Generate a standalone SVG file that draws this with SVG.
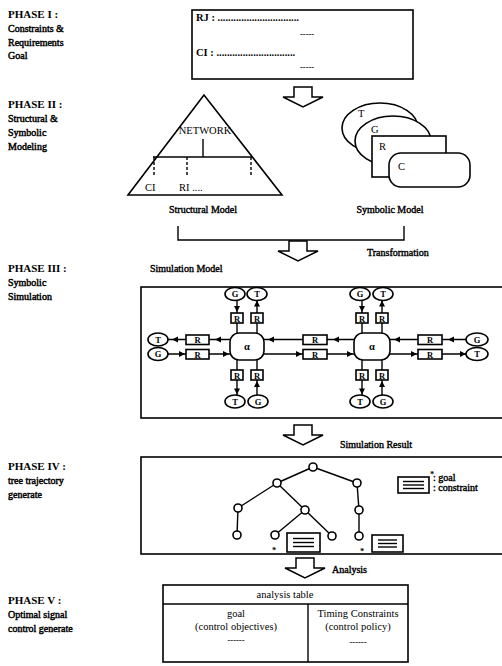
<svg xmlns="http://www.w3.org/2000/svg" width="502" height="666" viewBox="0 0 502 666">
<defs>
<style>
.ph{font-family:"Liberation Serif",serif;font-size:11px;font-weight:bold;fill:#000}
.lbl{font-family:"Liberation Serif",serif;font-size:10px;fill:#000;stroke:#000;stroke-width:0.45}
.cap{font-family:"Liberation Serif",serif;font-size:10px;fill:#000;stroke:#000;stroke-width:0.4}
.txt{font-family:"Liberation Serif",serif;font-size:10.5px;fill:#000}
.sm{font-family:"Liberation Serif",serif;font-size:8.5px;font-weight:bold;fill:#000}
.ln{stroke:#000;stroke-width:1.4;fill:none}
.bx{stroke:#000;stroke-width:1.6;fill:#fff}
.bxn{stroke:#000;stroke-width:1.6;fill:none}
</style>
<path id="ah" d="M0,0 L-6,-3 L-6,3 Z"/>
<path id="barrow" d="M-9,0 L9,0 L9,10 L20,10 L0,20 L-20,10 L-9,10 Z" fill="#fff" stroke="#000" stroke-width="1.5"/>
</defs>
<rect width="502" height="666" fill="#fff"/>

<g id="phase-labels">
<text class="ph" x="8" y="18">PHASE I :</text>
<text class="lbl" x="8" y="32">Constraints &amp;</text>
<text class="lbl" x="8" y="46">Requirements</text>
<text class="lbl" x="8" y="59">Goal</text>
<text class="ph" x="8" y="108">PHASE II :</text>
<text class="lbl" x="8" y="122">Structural &amp;</text>
<text class="lbl" x="8" y="136">Symbolic</text>
<text class="lbl" x="8" y="150">Modeling</text>
<text class="ph" x="8" y="272">PHASE III :</text>
<text class="lbl" x="8" y="286">Symbolic</text>
<text class="lbl" x="8" y="300">Simulation</text>
<text class="ph" x="8" y="470">PHASE IV :</text>
<text class="lbl" x="8" y="484">tree trajectory</text>
<text class="lbl" x="8" y="498">generate</text>
<text class="ph" x="8" y="604">PHASE V :</text>
<text class="lbl" x="8" y="618">Optimal signal</text>
<text class="lbl" x="8" y="632">control generate</text>
</g>

<g id="phase1-box">
<rect class="bxn" x="192" y="10" width="221" height="69"/>
<text class="txt" x="196" y="21" font-weight="bold">RJ : ...............................</text>
<text class="sm" x="300" y="37">-----</text>
<text class="txt" x="196" y="56" font-weight="bold">CI : ..............................</text>
<text class="sm" x="300" y="70">-----</text>
</g>

<g id="arrow1"><use href="#barrow" transform="translate(303,87)"/></g>

<g id="structural-model">
<polygon class="bxn" points="204,95 128,195 282,195"/>
<text class="txt" x="205" y="134" text-anchor="middle">NETWORK</text>
<line class="ln" x1="203" y1="139" x2="203" y2="157"/>
<line class="ln" x1="153" y1="157" x2="252" y2="157"/>
<line class="ln" x1="154" y1="157" x2="154" y2="175" stroke-dasharray="3,2"/>
<line class="ln" x1="187" y1="157" x2="187" y2="175" stroke-dasharray="3,2"/>
<line class="ln" x1="251" y1="157" x2="251" y2="175" stroke-dasharray="3,2"/>
<text class="txt" x="145" y="191">CI</text>
<text class="txt" x="179" y="191">RI ....</text>
<text class="cap" x="203" y="213" text-anchor="middle">Structural Model</text>
</g>

<g id="symbolic-model">
<ellipse class="bx" cx="380" cy="128" rx="38" ry="25"/>
<ellipse class="bx" cx="393" cy="141" rx="38" ry="25"/>
<rect class="bx" x="372" y="136" width="74" height="41"/>
<rect class="bx" x="389" y="153" width="81" height="34" rx="12"/>
<text class="txt" x="358" y="117">T</text>
<text class="txt" x="371" y="133">G</text>
<text class="txt" x="379" y="150">R</text>
<text class="txt" x="398" y="170">C</text>
<text class="cap" x="390" y="213" text-anchor="middle">Symbolic Model</text>
</g>

<g id="transformation">
<polyline class="ln" points="178,226 178,240 404,240 404,226"/>
<use href="#barrow" transform="translate(298,241)"/>
<text class="cap" x="367" y="256">Transformation</text>
</g>

<g id="simulation-model">
<text class="cap" x="150" y="272">Simulation Model</text>
<rect class="bxn" x="141" y="287" width="380" height="131"/>
</g>

<g id="connectors">
<line class="ln" x1="168" y1="339.5" x2="230" y2="339.5"/>
<line class="ln" x1="168" y1="354" x2="230" y2="354"/>
<use href="#ah" transform="translate(172,339.5) rotate(180)"/>
<use href="#ah" transform="translate(215,339.5) rotate(180)"/>
<use href="#ah" transform="translate(185,354)"/>
<use href="#ah" transform="translate(229,354)"/>
<line class="ln" x1="264" y1="339.5" x2="354" y2="339.5"/>
<line class="ln" x1="264" y1="354" x2="354" y2="354"/>
<use href="#ah" transform="translate(268,339.5) rotate(180)"/>
<use href="#ah" transform="translate(333,339.5) rotate(180)"/>
<use href="#ah" transform="translate(302,354)"/>
<use href="#ah" transform="translate(353,354)"/>
<line class="ln" x1="390" y1="339.5" x2="466" y2="339.5"/>
<line class="ln" x1="390" y1="354" x2="466" y2="354"/>
<use href="#ah" transform="translate(394,339.5) rotate(180)"/>
<use href="#ah" transform="translate(448,339.5) rotate(180)"/>
<use href="#ah" transform="translate(417,354)"/>
<use href="#ah" transform="translate(466,354)"/>
<line class="ln" x1="237" y1="300" x2="237" y2="333"/>
<line class="ln" x1="257" y1="300" x2="257" y2="333"/>
<use href="#ah" transform="translate(237,312) rotate(90)"/>
<use href="#ah" transform="translate(257,300.5) rotate(-90)"/>
<line class="ln" x1="237" y1="360" x2="237" y2="395"/>
<line class="ln" x1="257" y1="360" x2="257" y2="395"/>
<use href="#ah" transform="translate(237,394.5) rotate(90)"/>
<use href="#ah" transform="translate(257,381) rotate(-90)"/>
<line class="ln" x1="362" y1="300" x2="362" y2="333"/>
<line class="ln" x1="382" y1="300" x2="382" y2="333"/>
<use href="#ah" transform="translate(362,312) rotate(90)"/>
<use href="#ah" transform="translate(382,300.5) rotate(-90)"/>
<line class="ln" x1="362" y1="360" x2="362" y2="395"/>
<line class="ln" x1="382" y1="360" x2="382" y2="395"/>
<use href="#ah" transform="translate(362,394.5) rotate(90)"/>
<use href="#ah" transform="translate(382,381) rotate(-90)"/>
</g>

<g id="alpha1">
<rect class="bx" x="230" y="333" width="34" height="27" rx="9"/>
<text class="txt" x="247" y="350" text-anchor="middle" font-weight="bold">α</text>
</g>
<g id="alpha2">
<rect class="bx" x="354" y="333" width="36" height="27" rx="9"/>
<text class="txt" x="372" y="350" text-anchor="middle" font-weight="bold">α</text>
</g>

<g id="r-boxes">
<rect class="bx" x="186" y="335" width="23" height="9.5"/>
<rect class="bx" x="186" y="349.5" width="23" height="9.5"/>
<rect class="bx" x="303" y="335" width="24" height="9.5"/>
<rect class="bx" x="303" y="349.5" width="24" height="9.5"/>
<rect class="bx" x="418" y="335" width="24" height="9.5"/>
<rect class="bx" x="418" y="349.5" width="24" height="9.5"/>
<rect class="bx" x="231" y="313" width="12" height="10"/>
<rect class="bx" x="251" y="313" width="12" height="10"/>
<rect class="bx" x="231" y="370" width="12" height="10"/>
<rect class="bx" x="251" y="370" width="12" height="10"/>
<rect class="bx" x="356" y="313" width="12" height="10"/>
<rect class="bx" x="376" y="313" width="12" height="10"/>
<rect class="bx" x="356" y="370" width="12" height="10"/>
<rect class="bx" x="376" y="370" width="12" height="10"/>
<g class="sm" text-anchor="middle">
<text x="197.5" y="343">R</text><text x="197.5" y="357.5">R</text>
<text x="315" y="343">R</text><text x="315" y="357.5">R</text>
<text x="430" y="343">R</text><text x="430" y="357.5">R</text>
<text x="237" y="321.5">R</text><text x="257" y="321.5">R</text>
<text x="237" y="378.5">R</text><text x="257" y="378.5">R</text>
<text x="362" y="321.5">R</text><text x="382" y="321.5">R</text>
<text x="362" y="378.5">R</text><text x="382" y="378.5">R</text>
</g>
</g>

<g id="gt-nodes">
<ellipse class="bx" cx="158" cy="339.5" rx="10" ry="6.5"/>
<ellipse class="bx" cx="158" cy="354" rx="10" ry="6.5"/>
<ellipse class="bx" cx="477" cy="339.5" rx="11" ry="6.5"/>
<ellipse class="bx" cx="477" cy="354" rx="11" ry="6.5"/>
<ellipse class="bx" cx="235" cy="294" rx="10" ry="6.5"/>
<ellipse class="bx" cx="257" cy="294" rx="10" ry="6.5"/>
<ellipse class="bx" cx="235" cy="401.5" rx="10" ry="6.5"/>
<ellipse class="bx" cx="258" cy="401.5" rx="10" ry="6.5"/>
<ellipse class="bx" cx="360" cy="294" rx="10" ry="6.5"/>
<ellipse class="bx" cx="383" cy="294" rx="10" ry="6.5"/>
<ellipse class="bx" cx="360" cy="401.5" rx="10" ry="6.5"/>
<ellipse class="bx" cx="383" cy="401.5" rx="10" ry="6.5"/>
<g class="sm" text-anchor="middle">
<text x="158" y="342.5">T</text><text x="158" y="357">G</text>
<text x="477" y="342.5">G</text><text x="477" y="357">T</text>
<text x="235" y="297">G</text><text x="257" y="297">T</text>
<text x="235" y="404.5">T</text><text x="258" y="404.5">G</text>
<text x="360" y="297">G</text><text x="383" y="297">T</text>
<text x="360" y="404.5">T</text><text x="383" y="404.5">G</text>
</g>
</g>

<g id="arrow3">
<use href="#barrow" transform="translate(303,425)"/>
<text class="cap" x="340" y="448">Simulation Result</text>
</g>

<g id="phase4-box">
<rect class="bxn" x="141" y="457" width="380" height="97"/>
</g>

<g id="tree">
<g class="ln">
<line x1="313" y1="467" x2="277" y2="483"/>
<line x1="313" y1="467" x2="357" y2="483"/>
<line x1="277" y1="483" x2="238" y2="508"/>
<line x1="277" y1="483" x2="305" y2="510"/>
<line x1="357" y1="483" x2="359" y2="510"/>
<line x1="238" y1="508" x2="237" y2="535"/>
<line x1="305" y1="510" x2="275" y2="535"/>
<line x1="305" y1="510" x2="332" y2="536"/>
<line x1="359" y1="510" x2="359" y2="536"/>
</g>
<g class="bx">
<circle cx="313" cy="467" r="4"/>
<circle cx="277" cy="483" r="4"/>
<circle cx="357" cy="483" r="4"/>
<circle cx="238" cy="508" r="4"/>
<circle cx="305" cy="510" r="4"/>
<circle cx="359" cy="510" r="4"/>
<circle cx="237" cy="535" r="4"/>
<circle cx="275" cy="535" r="4"/>
<circle cx="332" cy="536" r="4"/>
<circle cx="359" cy="536" r="4"/>
</g>
<rect class="bx" x="287" y="533" width="33" height="19"/>
<line class="ln" x1="293" y1="538.5" x2="314" y2="538.5"/>
<line class="ln" x1="293" y1="542.5" x2="314" y2="542.5"/>
<line class="ln" x1="293" y1="546.5" x2="314" y2="546.5"/>
<rect class="bx" x="372" y="535" width="31" height="17"/>
<line class="ln" x1="378" y1="540" x2="397" y2="540"/>
<line class="ln" x1="378" y1="543.5" x2="397" y2="543.5"/>
<line class="ln" x1="378" y1="547" x2="397" y2="547"/>
<text class="sm" x="274" y="553" text-anchor="middle">*</text>
<text class="sm" x="362" y="554" text-anchor="middle">*</text>
</g>

<g id="legend">
<rect class="bx" x="398" y="477" width="31" height="16"/>
<line class="ln" x1="403" y1="481.5" x2="424" y2="481.5"/>
<line class="ln" x1="403" y1="485" x2="424" y2="485"/>
<line class="ln" x1="403" y1="488.5" x2="424" y2="488.5"/>
<text class="sm" x="430" y="477">*</text>
<text class="cap" x="433" y="481">: goal</text>
<text class="cap" x="433" y="491">: constraint</text>
</g>

<g id="arrow4">
<use href="#barrow" transform="translate(305,558)"/>
<text class="cap" x="332" y="573">Analysis</text>
</g>

<g id="analysis-table">
<rect class="bxn" x="163" y="585" width="245" height="77"/>
<line class="ln" x1="163" y1="604" x2="408" y2="604"/>
<line class="ln" x1="308" y1="604" x2="308" y2="662"/>
<text class="txt" x="285" y="598" text-anchor="middle">analysis table</text>
<text class="txt" x="236" y="617" text-anchor="middle">goal</text>
<text class="txt" x="236" y="630" text-anchor="middle">(control objectives)</text>
<text class="sm" x="236" y="643" text-anchor="middle">------</text>
<text class="txt" x="358" y="617" text-anchor="middle">Timing Constraints</text>
<text class="txt" x="358" y="630" text-anchor="middle">(control policy)</text>
<text class="sm" x="358" y="645" text-anchor="middle">------</text>
</g>
</svg>
